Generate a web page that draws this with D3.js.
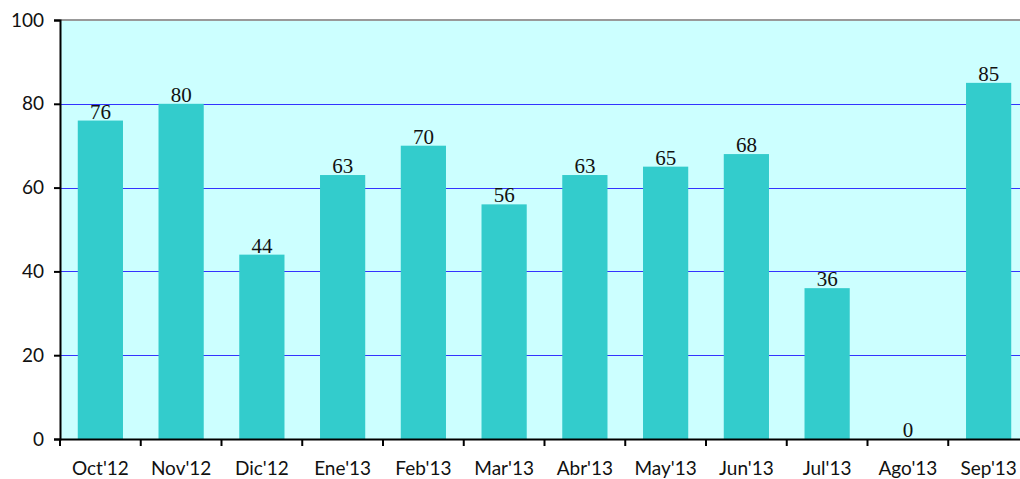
<!DOCTYPE html>
<html>
<head>
<meta charset="utf-8">
<script src="https://cdn.jsdelivr.net/npm/d3@7"></script>
<style>
  body { margin: 0; background: #fff; overflow: hidden; }
  svg { display: block; }
</style>
</head>
<body>
<svg class="chart"></svg>
<script>
const months = ["Oct'12", "Nov'12", "Dic'12", "Ene'13", "Feb'13", "Mar'13", "Abr'13", "May'13", "Jun'13", "Jul'13", "Ago'13", "Sep'13"];
const values = [76, 80, 44, 63, 70, 56, 63, 65, 68, 36, 0, 85];
const yTicks = [0, 20, 40, 60, 80, 100];

const width = 1020;
const height = 479;
const margin = { top: 20, left: 60, bottom: 40 };
const plotRight = 1029;
const innerHeight = height - margin.top - margin.bottom;

const svg = d3.select(".chart")
    .attr("width", width)
    .attr("height", height);

const x = d3.scaleBand()
    .domain(months)
    .range([margin.left, plotRight])
    .paddingInner(0.44)
    .paddingOuter(0.22);

const y = d3.scaleLinear()
    .domain([0, 100])
    .range([margin.top + innerHeight, margin.top]);

// plot background
svg.append("rect")
    .attr("x", margin.left)
    .attr("y", y(100))
    .attr("width", plotRight - margin.left)
    .attr("height", y(0) - y(100))
    .attr("fill", "#ccffff");

// gridlines
svg.append("g")
  .selectAll("line")
  .data(yTicks.filter(d => d > 0 && d < 100))
  .enter()
  .append("line")
    .attr("x1", margin.left)
    .attr("x2", plotRight)
    .attr("y1", d => Math.round(y(d)) + 0.5)
    .attr("y2", d => Math.round(y(d)) + 0.5)
    .attr("stroke", "#3333ff")
    .attr("stroke-width", 1)
    .attr("shape-rendering", "crispEdges");

// top border
svg.append("line")
    .attr("x1", margin.left)
    .attr("x2", plotRight)
    .attr("y1", y(100))
    .attr("y2", y(100))
    .attr("stroke", "#999")
    .attr("stroke-width", 2);

// bars
svg.append("g")
  .selectAll("rect")
  .data(values)
  .enter()
  .append("rect")
    .attr("x", (d, i) => x(months[i]))
    .attr("y", d => y(d))
    .attr("width", x.bandwidth())
    .attr("height", d => y(0) - y(d))
    .attr("fill", "#33cccc");

// value labels
svg.append("g")
  .selectAll("text")
  .data(values)
  .enter()
  .append("text")
    .attr("x", (d, i) => x(months[i]) + x.bandwidth() / 2)
    .attr("y", d => y(d) - 2)
    .attr("text-anchor", "middle")
    .attr("font-family", "'Liberation Serif', 'DejaVu Serif', serif")
    .attr("font-size", "21px")
    .attr("fill", "#111")
    .text(d => d);

// y axis
const yAxis = svg.append("g")
    .attr("transform", `translate(${margin.left},0)`)
    .call(d3.axisLeft(y).tickValues(yTicks).tickSize(6).tickPadding(10));
yAxis.select(".domain").attr("stroke", "#000").attr("stroke-width", 2);
yAxis.selectAll(".tick line").attr("stroke", "#000").attr("stroke-width", 2);
yAxis.selectAll("text")
    .attr("font-family", "Lato, 'Open Sans', sans-serif")
    .attr("font-size", "19px")
    .attr("fill", "#111");

// x axis
const step = x.step();
const xAxis = svg.append("g")
    .attr("transform", `translate(0,${y(0)})`)
    .call(d3.axisBottom(x).tickSize(0).tickPadding(23));
xAxis.select(".domain").attr("stroke", "#000").attr("stroke-width", 2);
xAxis.selectAll("text")
    .attr("font-family", "Lato, 'Open Sans', sans-serif")
    .attr("font-size", "19px")
    .attr("fill", "#111");

// category boundary ticks
svg.append("g")
  .selectAll("line")
  .data(d3.range(months.length + 1))
  .enter()
  .append("line")
    .attr("x1", i => margin.left + i * step)
    .attr("x2", i => margin.left + i * step)
    .attr("y1", y(0))
    .attr("y2", y(0) + 7)
    .attr("stroke", "#000")
    .attr("stroke-width", 2);
</script>
</body>
</html>
